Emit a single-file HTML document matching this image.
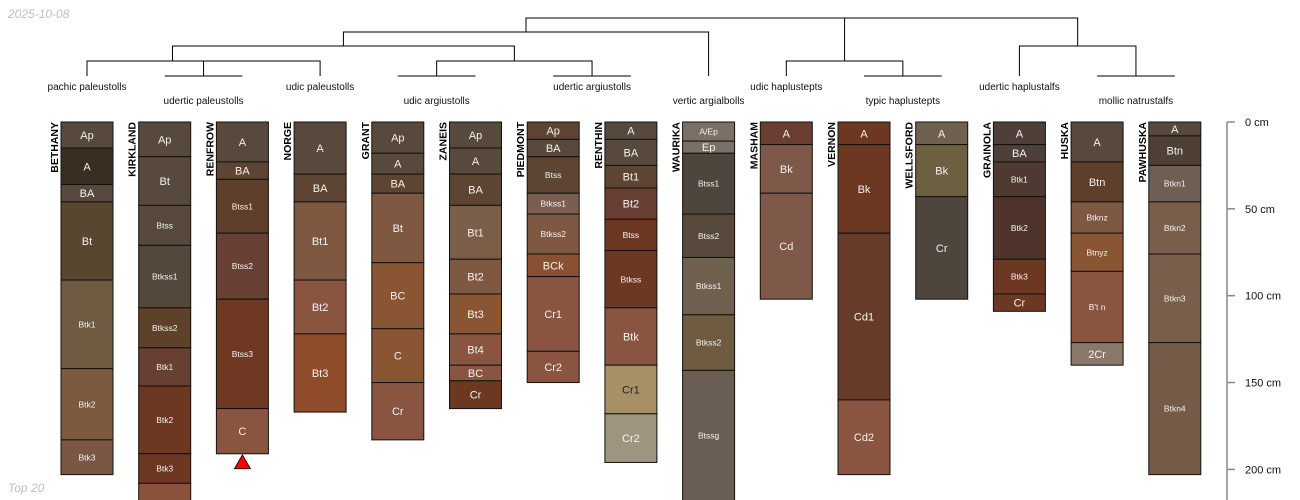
<!DOCTYPE html>
<html><head><meta charset="utf-8"><style>
html,body{margin:0;padding:0;background:#fff;width:1300px;height:500px;overflow:hidden}
svg{display:block;font-family:"Liberation Sans",sans-serif}
</style></head><body>
<svg id="chart" width="1300" height="500" viewBox="0 0 1300 500" xmlns="http://www.w3.org/2000/svg">
<text x="8" y="18" font-size="12" font-style="italic" fill="#c0c0c0">2025-10-08</text>
<text x="8" y="492" font-size="12" font-style="italic" fill="#c0c0c0">Top 20</text>
<g id="dendro" stroke="#000" stroke-width="1" fill="none"></g>
<g id="profiles"></g>
<g id="axis"></g>
</svg>
<script>
const profileNames = ["BETHANY","KIRKLAND","RENFROW","NORGE","GRANT","ZANEIS","PIEDMONT","RENTHIN","WAURIKA","MASHAM","VERNON","WELLSFORD","GRAINOLA","HUSKA","PAWHUSKA"];
const horizonNames = [
 ["Ap","A","BA","Bt","Btk1","Btk2","Btk3"],
 ["Ap","Bt","Btss","Btkss1","Btkss2","Btk1","Btk2","Btk3",""],
 ["A","BA","Btss1","Btss2","Btss3","C"],
 ["A","BA","Bt1","Bt2","Bt3"],
 ["Ap","A","BA","Bt","BC","C","Cr"],
 ["Ap","A","BA","Bt1","Bt2","Bt3","Bt4","BC","Cr"],
 ["Ap","BA","Btss","Btkss1","Btkss2","BCk","Cr1","Cr2"],
 ["A","BA","Bt1","Bt2","Btss","Btkss","Btk","Cr1","Cr2"],
 ["A/Ep","Ep","Btss1","Btss2","Btkss1","Btkss2","Btssg"],
 ["A","Bk","Cd"],
 ["A","Bk","Cd1","Cd2"],
 ["A","Bk","Cr"],
 ["A","BA","Btk1","Btk2","Btk3","Cr"],
 ["A","Btn","Btknz","Btnyz","B't n","2Cr"],
 ["A","Btn","Btkn1","Btkn2","Btkn3","Btkn4"]
];
const horizonDepths = [
 [0,15,36,46,91,142,183,203],
 [0,20,48,71,107,130,152,191,208,240],
 [0,23,33,64,102,165,191],
 [0,30,46,91,122,167],
 [0,18,30,41,81,119,150,183],
 [0,15,30,48,79,99,122,140,149,165],
 [0,10,20,41,53,76,89,132,150],
 [0,10,25,38,56,74,107,140,168,196],
 [0,11,18,53,78,111,143,260],
 [0,13,41,102],
 [0,13,64,160,203],
 [0,13,43,102],
 [0,13,23,43,79,99,109],
 [0,23,46,64,86,127,140],
 [0,8,25,46,76,127,203]
];
const horizonColors = [
 ["#574A3C","#3A2E21","#574A3C","#584630","#6F5B42","#7C5A3D","#7A5742"],
 ["#574A3C","#574A3C","#574A3C","#54473B","#5E4129","#673F33","#6C3822","#6C3822","#8A5238"],
 ["#574A3C","#5E4533","#5E3F2B","#683F33","#6E3822","#8A5540"],
 ["#574A3C","#5E4533","#7E5841","#8A5540","#8F4B2A"],
 ["#574A3C","#574A3C","#5E4533","#7E5841","#8A5533","#8A5533","#8A5540"],
 ["#574A3C","#574A3C","#5E4533","#7A5E47","#7E5841","#8A5533","#8A5540","#8A5540","#6C3822"],
 ["#5E4533","#574A3C","#5E4533","#7A5E50","#7E5841","#8A5030","#8A5540","#8A5540"],
 ["#574A3C","#574A3C","#5E4533","#683F33","#6C3822","#6C3822","#8A5540","#A89066","#9E9480"],
 ["#7A7065","#7A7065","#4E463C","#574A3C","#6F6150","#6F5B42","#6A5E54"],
 ["#6A3E33","#7E5848","#7E5848"],
 ["#6C3822","#6C3822","#683C2A","#8A5540"],
 ["#6F6150","#6C6040","#4E463C"],
 ["#4E4038","#4E4038","#4E3A30","#4E342B","#6C3822","#6C3822"],
 ["#574A3C","#5E3F2B","#7E5841","#8A5533","#8A5540","#8A786A"],
 ["#574A3C","#4E4034","#6F5E52","#7A5E4C","#7A5E4C","#755A48"]
];
const axisTicks = [0,50,100,150,200];
const taxonLabels = ["pachic paleustolls","udertic paleustolls","udic paleustolls","udic argiustolls","udertic argiustolls","vertic argialbolls","udic haplustepts","typic haplustepts","udertic haplustalfs","mollic natrustalfs"];
const taxonTips = [0,1.5,3,4.5,6.5,8,9,10.5,12,13.5];
const taxonRow = [0,1,0,1,0,1,0,1,0,1];

const NS="http://www.w3.org/2000/svg";
const x0=87, dx=77.7, colW=52, topY=122, pxcm=1.737;
const xc = i => x0 + i*dx;
const yd = d => topY + d*pxcm;
function mk(tag, attrs, parent){const e=document.createElementNS(NS,tag);for(const k in attrs)e.setAttribute(k,attrs[k]);parent.appendChild(e);return e;}

const pg=document.getElementById('profiles');
profileNames.forEach((nm,i)=>{
  const g=mk('g',{},pg);
  
  
  const left=xc(i)-colW/2;
  const dep=horizonDepths[i];
  horizonNames[i].forEach((h,j)=>{
    const y1=yd(dep[j]), y2=Math.min(yd(dep[j+1]),520);
    const r=mk('rect',{x:left,y:y1,width:colW,height:y2-y1,fill:horizonColors[i][j],stroke:'#111','stroke-width':1},g);
    
    
    if(h){
      const ym=(y1+Math.min(y2,500))/2;
      const fs=h.length<=3?11:8.5;
      const t=mk('text',{x:xc(i),y:ym+fs*0.36,'font-size':fs,'text-anchor':'middle',fill:(h==='Cr1'&&nm==='RENTHIN')?'#222':'#f2f2f2'},g);
      t.textContent=h;
      
      
    }
  });
  const n=mk('text',{x:0,y:0,'font-size':10.5,'font-weight':'bold','text-anchor':'end',transform:`translate(${left-3},${topY}) rotate(-90)`,fill:'#000'},g);
  n.textContent=nm;
  
  
  if(nm==='RENFROW'){
    const yb=yd(dep[dep.length-1]);
    const tri=mk('polygon',{points:`${xc(i)-8},${yb+15} ${xc(i)+8},${yb+15} ${xc(i)},${yb+1}`,fill:'#f00',stroke:'#000','stroke-width':0.8},g);
    
    
  }
});

const dg=document.getElementById('dendro');
function seg(pts){const p=mk('polyline',{points:pts.map(q=>q.join(',')).join(' ')},dg);}
const X=i=>xc(i);
[[1,2],[4,5],[6,7],[10,11],[13,14]].forEach(([a,b])=>{seg([[X(a),76],[X(b),76]]);});
seg([[X(0),76],[X(0),61],[X(3),61],[X(3),76]]);
seg([[X(1.5),76],[X(1.5),61]]);
seg([[X(4.5),76],[X(4.5),61],[X(6.5),61],[X(6.5),76]]);
seg([[X(1.1),61],[X(1.1),46],[X(5.5),46],[X(5.5),61]]);
seg([[X(3.3),46],[X(3.3),32],[X(8),32],[X(8),76]]);
seg([[X(9),76],[X(9),61],[X(10.5),61],[X(10.5),76]]);
seg([[X(12),76],[X(12),46],[X(13.5),46],[X(13.5),76]]);
seg([[X(5.65),32],[X(5.65),18],[X(12.75),18],[X(12.75),46]]);
seg([[X(9.75),18],[X(9.75),61]]);
const svgRoot=document.getElementById('chart');
taxonLabels.forEach((lb,k)=>{
  const t=mk('text',{x:X(taxonTips[k]),y:taxonRow[k]?104:90,'font-size':10,'text-anchor':'middle',fill:'#111'},svgRoot);
  t.textContent=lb;
  
  
});

const ag=document.getElementById('axis');
const al=mk('line',{x1:1227,y1:topY,x2:1227,y2:500,stroke:'#888','stroke-width':1.5},ag);


axisTicks.forEach(v=>{
  const tk=mk('line',{x1:1227,y1:yd(v),x2:1235,y2:yd(v),stroke:'#888','stroke-width':1.5},ag);
  
  
  const t=mk('text',{x:1245,y:yd(v)+4,'font-size':11,fill:'#111'},ag);
  t.textContent=v+' cm';
  
  
});
</script>
</body></html>
